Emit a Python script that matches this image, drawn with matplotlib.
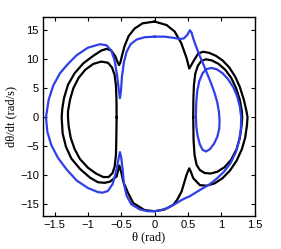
import numpy as np
import matplotlib
matplotlib.use("Agg")
import matplotlib.pyplot as plt

# outer black loop (central lobe + outer arcs)
outer_theta = [0, 0.18, 0.3, 0.4, 0.48, 0.52, 0.58, 0.655, 0.73, 0.82, 0.92, 1.02,
               1.12, 1.21, 1.28, 1.34, 1.38, 1.395, 1.385, 1.36, 1.31, 1.23, 1.13,
               1.02, 0.9, 0.78, 0.68, 0.58, 0.545, 0.52, 0.48, 0.405, 0.34, 0.28,
               0.15, 0, -0.15, -0.32, -0.4, -0.47, -0.5, -0.53, -0.57, -0.67, -0.75,
               -0.85, -0.97, -1.12, -1.25, -1.33, -1.38, -1.395, -1.385, -1.36, -1.3,
               -1.2, -1.07, -0.92, -0.8, -0.72, -0.65, -0.59, -0.555, -0.535, -0.515,
               -0.49, -0.45, -0.39, -0.3, -0.18, 0]
outer_omega = [16.5, 15.9, 14.8, 12.8, 10.2, 8.4, 9.6, 11.0, 11.3, 11.1, 10.6, 9.8,
               8.6, 7.0, 5.2, 3.0, 1.0, 0, -1.5, -3.5, -5.5, -7.5, -9.2,
               -10.5, -11.4, -11.8, -11.7, -10.5, -9.4, -8.8, -9.9, -12.8, -14.2, -15.1,
               -15.9, -16.2, -16.0, -14.8, -13.0, -11.1, -9.5, -8.3, -10.2, -11.1, -11.3,
               -11.2, -10.4, -8.9, -7.1, -5.1, -2.8, 0, 1.5, 3.3, 5.6,
               7.6, 9.3, 10.6, 11.5, 11.8, 11.5, 10.5, 9.5, 9.0, 9.4,
               10.6, 12.3, 14.0, 15.3, 16.2, 16.5]

# inner black loop, left side
left_theta = [-0.57, -0.572, -0.58, -0.6, -0.64, -0.7, -0.8, -0.92, -1.04, -1.14,
              -1.22, -1.27, -1.3, -1.3, -1.29, -1.26, -1.2, -1.12, -1.0, -0.88,
              -0.77, -0.69, -0.63, -0.6, -0.58, -0.575, -0.57]
left_omega = [0, 3.0, 5.5, 7.3, 8.6, 9.4, 9.6, 9.2, 8.2, 6.8,
              5.0, 3.0, 1.0, 0, -1.5, -3.5, -5.5, -7.2, -8.7, -9.7,
              -10.3, -10.3, -9.6, -8.5, -6.5, -4.0, 0]

# inner black loop, right side
right_theta = [0.58, 0.582, 0.59, 0.61, 0.65, 0.7, 0.77, 0.86, 0.96, 1.06, 1.15,
               1.22, 1.28, 1.31, 1.315, 1.305, 1.28, 1.23, 1.15, 1.05, 0.94, 0.84,
               0.75, 0.68, 0.63, 0.6, 0.585, 0.58]
right_omega = [0, 3.0, 5.5, 7.5, 8.9, 9.7, 10.0, 9.8, 9.2, 8.2, 6.8,
               5.1, 3.0, 1.0, 0, -1.5, -3.5, -5.5, -7.3, -8.6, -9.4, -9.7,
               -9.6, -9.1, -8.2, -6.5, -4.0, 0]

# blue trajectory
blue_theta = [0, 0.15, 0.28, 0.38, 0.44, 0.49, 0.53, 0.555, 0.58, 0.62, 0.67, 0.73,
              0.79, 0.85, 0.9, 0.94, 0.965, 0.975, 0.97, 0.94, 0.89, 0.83, 0.77, 0.72,
              0.68, 0.645, 0.625, 0.62, 0.625, 0.64, 0.67, 0.72, 0.78, 0.85, 0.93,
              1.02, 1.1, 1.18, 1.24, 1.28, 1.3, 1.295, 1.27, 1.22, 1.14, 1.04, 0.93,
              0.82, 0.7, 0.6, 0.53, 0.47, 0.4, 0.3, 0.2, 0.1, 0, -0.1, -0.22, -0.35,
              -0.42, -0.46, -0.48, -0.5, -0.52, -0.545, -0.58, -0.63, -0.7, -0.78,
              -0.85, -1.0, -1.17, -1.32, -1.45, -1.55, -1.61, -1.63, -1.59, -1.52,
              -1.42, -1.3, -1.17, -1.0, -0.82, -0.72, -0.65, -0.6, -0.56, -0.535,
              -0.52, -0.505, -0.49, -0.46, -0.42, -0.36, -0.27, -0.15, 0]
blue_omega = [13.9, 13.9, 13.7, 13.5, 13.6, 14.2, 15.0, 14.6, 13.6, 12.3, 10.8, 9.2,
              7.5, 5.8, 4.2, 2.6, 1.0, -0.5, -2.0, -3.4, -4.6, -5.5, -5.9, -5.6,
              -4.7, -3.2, -1.5, 0.5, 2.5, 4.5, 6.2, 7.6, 8.3, 8.5, 8.3,
              7.6, 6.6, 5.2, 3.6, 1.8, 0, -2.0, -4.0, -6.0, -7.9, -9.4, -10.6,
              -11.6, -12.4, -13.1, -13.6, -13.9, -14.3, -15.0, -15.6, -16.0, -16.2,
              -16.2, -15.9, -15.0, -13.5, -11.5, -9.0, -7.0, -6.0, -7.4, -9.5, -11.5,
              -12.7, -13.0, -12.9, -12.2, -10.9, -9.0, -7.0, -4.8, -2.5, 0, 3.0, 5.5,
              7.6, 9.2, 10.7, 12.0, 12.6, 12.4, 11.5, 9.8, 7.0, 4.5,
              3.3, 4.5, 7.0, 9.5, 11.3, 12.6, 13.4, 13.8, 13.9]

xticks = [-1.5, -1, -0.5, 0, 0.5, 1, 1.5]
xticklabels = ["\u22121.5", "\u22121", "\u22120.5", "0", "0.5", "1", "1.5"]
yticks = [-15, -10, -5, 0, 5, 10, 15]
yticklabels = ["\u221215", "\u221210", "\u22125", "0", "5", "10", "15"]

fig = plt.figure(figsize=(2.81, 2.49), dpi=100)
ax = fig.add_axes([0.153, 0.133, 0.754, 0.799])

lw = 1.6
kw = dict(lw=lw, solid_joinstyle="round")
ax.plot(outer_theta, outer_omega, color="black", **kw)
ax.plot(left_theta, left_omega, color="black", **kw)
ax.plot(right_theta, right_omega, color="black", **kw)
ax.plot(blue_theta, blue_omega, color="#3040e8", **kw)

ax.set_xlim(-1.675, 1.505)
ax.set_ylim(-17.0, 17.3)
ax.set_xticks(xticks)
ax.set_xticklabels(xticklabels, family="Liberation Sans", fontsize=8)
ax.set_yticks(yticks)
ax.set_yticklabels(yticklabels, family="Liberation Sans", fontsize=8)
ax.tick_params(direction="in", length=3, width=0.8, top=True, right=True, pad=3)
for s in ax.spines.values():
    s.set_linewidth(1.0)

ax.set_xlabel("\u03b8 (rad)", family="Liberation Serif", fontsize=9, labelpad=1)
ax.set_ylabel("d\u03b8/dt (rad/s)", family="Liberation Serif", fontsize=9, labelpad=2)

fig.savefig("out.png", dpi=100)
